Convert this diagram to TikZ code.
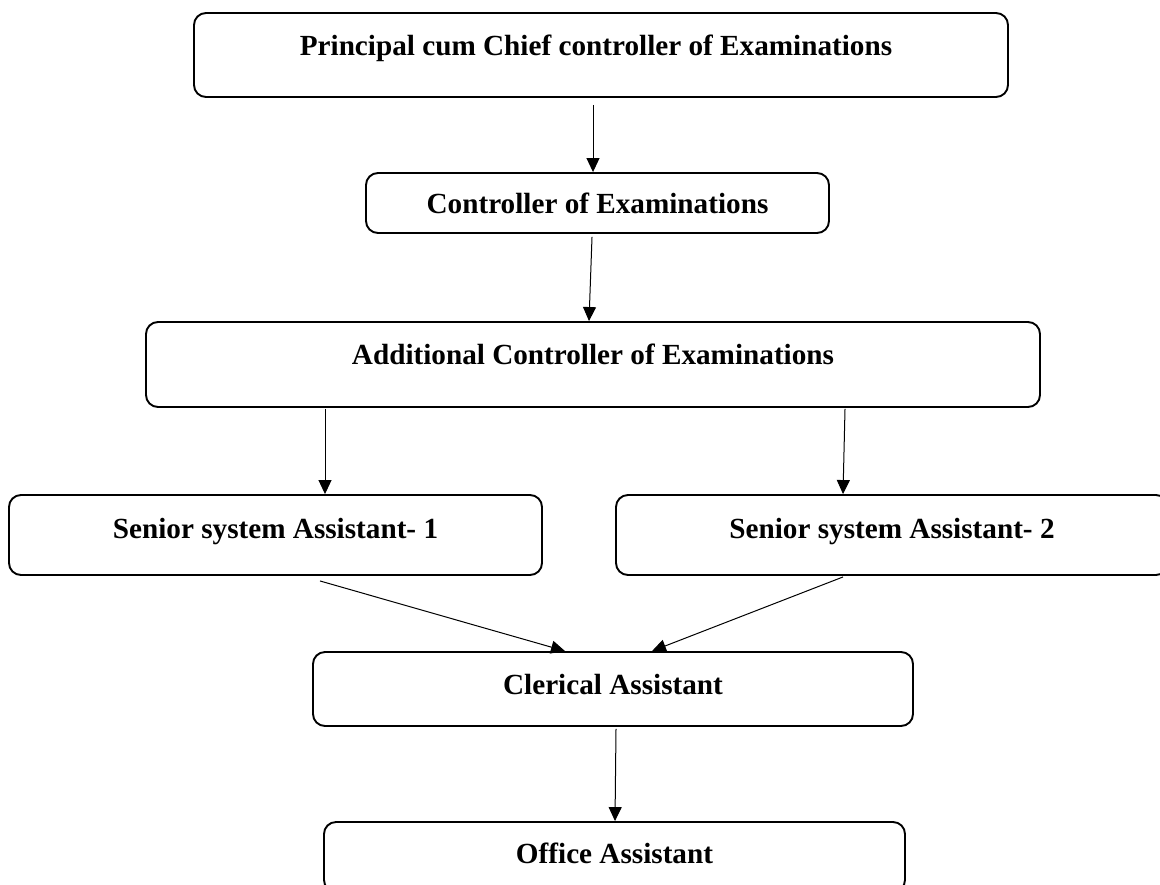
\documentclass[tikz,border=0pt]{standalone}
\usepackage{fontspec}
\setmainfont{Liberation Serif}
\usetikzlibrary{arrows.meta}
\begin{document}
\begin{tikzpicture}[
  box/.style={draw=black, line width=0.95pt, rounded corners=6pt, inner sep=0pt},
  txt/.style={font=\fontsize{14.6}{17}\selectfont\bfseries, inner sep=0pt, anchor=base},
  arr/.style={draw=black, line width=0.5pt, -{Triangle[length=7pt,width=6.5pt]}}
]
\useasboundingbox (0,0) rectangle (580pt,-442pt);
% boxes
\node[box, minimum width=407pt, minimum height=42pt] (P) at (300.5pt,-27.5pt) {};
\node[txt] (Pt) at (298pt,-27.5pt) {Principal cum Chief controller of Examinations};
\node[box, minimum width=231.5pt, minimum height=30pt] (C) at (298.75pt,-101.5pt) {};
\node[txt] (Ct) at (298.75pt,-106.5pt) {Controller of Examinations};
\node[box, minimum width=447pt, minimum height=42.5pt] (A) at (296.5pt,-182.25pt) {};
\node[txt] (At) at (296.5pt,-182pt) {Additional Controller of Examinations};
\node[box, minimum width=266.5pt, minimum height=40pt] (S1) at (137.75pt,-267.5pt) {};
\node[txt] (S1t) at (137.75pt,-269pt) {Senior system Assistant- 1};
\node[box, minimum width=276pt, minimum height=40pt] (S2) at (446pt,-267.5pt) {};
\node[txt] (S2t) at (446pt,-269pt) {Senior system Assistant- 2};
\node[box, minimum width=300pt, minimum height=37pt] (Cl) at (306.5pt,-344.5pt) {};
\node[txt] (Clt) at (306.5pt,-347pt) {Clerical Assistant};
\node[box, minimum width=290.5pt, minimum height=35pt] (O) at (307.25pt,-428.5pt) {};
\node[txt] (Ot) at (307.25pt,-431.5pt) {Office Assistant};
% connectors
\draw[arr] ([xshift=-4pt,yshift=-3.5pt]P.south) -- ([xshift=-2.25pt]C.north);
\draw[arr] ([xshift=-2.75pt,yshift=-1.5pt]C.south) -- ([xshift=-2pt]A.north);
\draw[arr] ([xshift=-134pt,yshift=-0.5pt]A.south) -- ([xshift=24.75pt]S1.north);
\draw[arr] ([xshift=126pt,yshift=-0.5pt]A.south) -- ([xshift=-24.5pt]S2.north);
\draw[arr] ([xshift=22.25pt,yshift=-2.5pt]S1.south) -- ([xshift=-24pt]Cl.north);
\draw[arr] ([xshift=-24.5pt,yshift=-0.5pt]S2.south) -- ([xshift=19.5pt]Cl.north);
\draw[arr] ([xshift=1.5pt,yshift=-1pt]Cl.south) -- ([xshift=0.25pt]O.north);
\end{tikzpicture}
\end{document}
